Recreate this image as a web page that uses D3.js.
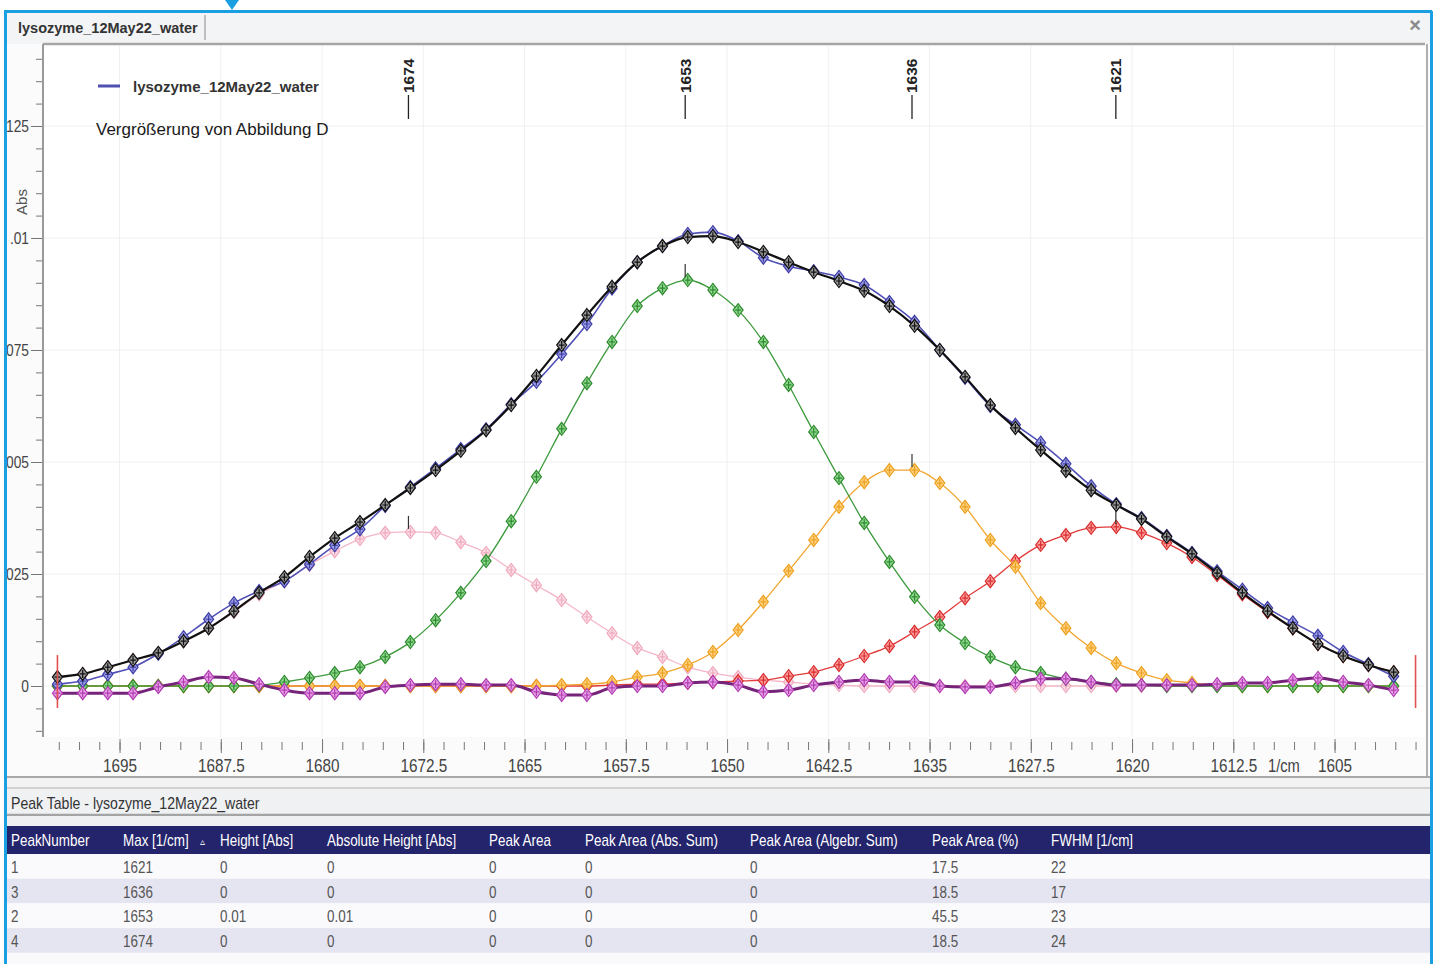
<!DOCTYPE html>
<html>
<head>
<meta charset="utf-8">
<script src="https://cdn.jsdelivr.net/npm/d3@7"></script>
<style>
  body { margin: 0; background: #fff; }
  svg { display: block; }
  text { font-family: "Liberation Sans", Arial, sans-serif; }
</style>
</head>
<body>
<div class="chart"></div>
<script>
// wavenumbers of the sampled points (1/cm)
const wavenumbers = [1699.60, 1697.73, 1695.87, 1694.00, 1692.13, 1690.26, 1688.40, 1686.53, 1684.66, 1682.79,
  1680.93, 1679.06, 1677.19, 1675.32, 1673.46, 1671.59, 1669.72, 1667.85, 1665.99, 1664.12,
  1662.25, 1660.38, 1658.52, 1656.65, 1654.78, 1652.91, 1651.05, 1649.18, 1647.31, 1645.44,
  1643.58, 1641.71, 1639.84, 1637.97, 1636.11, 1634.24, 1632.37, 1630.50, 1628.64, 1626.77,
  1624.90, 1623.03, 1621.17, 1619.30, 1617.43, 1615.56, 1613.70, 1611.83, 1609.96, 1608.09,
  1606.23, 1604.36, 1602.49, 1600.62];

// measured spectrum (Abs)
const measured = [0.00004, 0.00011, 0.00026, 0.00042, 0.00072, 0.00109, 0.00149, 0.00185, 0.00212, 0.00234,
  0.00272, 0.00314, 0.00350, 0.00402, 0.00444, 0.00486, 0.00529, 0.00573, 0.00629, 0.00679,
  0.00741, 0.00808, 0.00887, 0.00946, 0.00982, 0.01009, 0.01013, 0.00993, 0.00956, 0.00937,
  0.00926, 0.00913, 0.00895, 0.00857, 0.00813, 0.00750, 0.00688, 0.00625, 0.00583, 0.00543,
  0.00496, 0.00446, 0.00406, 0.00375, 0.00335, 0.00297, 0.00256, 0.00215, 0.00174, 0.00142,
  0.00112, 0.00076, 0.00049, 0.00022];

// sum of the fitted peaks
const fitSum = [0.00020, 0.00027, 0.00042, 0.00058, 0.00074, 0.00100, 0.00129, 0.00167, 0.00208, 0.00243,
  0.00288, 0.00330, 0.00366, 0.00404, 0.00442, 0.00482, 0.00525, 0.00571, 0.00627, 0.00692,
  0.00761, 0.00828, 0.00891, 0.00946, 0.00982, 0.01002, 0.01004, 0.00991, 0.00969, 0.00946,
  0.00924, 0.00904, 0.00882, 0.00848, 0.00804, 0.00750, 0.00690, 0.00627, 0.00576, 0.00527,
  0.00480, 0.00437, 0.00404, 0.00373, 0.00333, 0.00295, 0.00252, 0.00208, 0.00167, 0.00129,
  0.00094, 0.00067, 0.00047, 0.00031];

// peak 4 (1674)
const peak1674 = [0.00020, 0.00027, 0.00042, 0.00058, 0.00074, 0.00100, 0.00129, 0.00165, 0.00205, 0.00234,
  0.00270, 0.00301, 0.00328, 0.00342, 0.00344, 0.00342, 0.00321, 0.00297, 0.00259, 0.00225,
  0.00192, 0.00154, 0.00118, 0.00085, 0.00065, 0.00042, 0.00029, 0.00020, 0.00013, 0.00009,
  0.00004, 0.00002, 0, 0, 0, 0, 0, 0, 0, 0,
  0, 0, 0, 0, 0, 0, 0, 0, 0, 0,
  0, 0, 0, 0];

// peak 2 (1653)
const peak1653 = [0, 0, 0, 0, 0, 0, 0, 0, 0.00002, 0.00009,
  0.00018, 0.00029, 0.00042, 0.00065, 0.00098, 0.00147, 0.00208, 0.00279, 0.00368, 0.00467,
  0.00574, 0.00676, 0.00768, 0.00848, 0.00888, 0.00906, 0.00884, 0.00839, 0.00768, 0.00672,
  0.00567, 0.00464, 0.00364, 0.00277, 0.00199, 0.00136, 0.00096, 0.00065, 0.00042, 0.00029,
  0.00016, 0.00009, 0.00004, 0.00002, 0, 0, 0, 0, 0, 0,
  0, 0, 0, 0];

// peak 3 (1636)
const peak1636 = [0, 0, 0, 0, 0, 0, 0, 0, 0, 0,
  0, 0, 0, 0, 0, 0, 0, 0, 0, 0,
  0.00002, 0.00004, 0.00009, 0.00020, 0.00029, 0.00047, 0.00076, 0.00125, 0.00188, 0.00257,
  0.00326, 0.00400, 0.00455, 0.00482, 0.00482, 0.00453, 0.00400, 0.00326, 0.00266, 0.00185,
  0.00129, 0.00085, 0.00051, 0.00029, 0.00013, 0.00007, 0.00002, 0, 0, 0,
  0, 0, 0, 0];

// peak 1 (1621)
const peak1621 = [0, 0, 0, 0, 0, 0, 0, 0, 0, 0,
  0, 0, 0, 0, 0, 0, 0, 0, 0, 0,
  0, 0, 0.00002, 0.00004, 0.00004, 0.00007, 0.00009, 0.00011, 0.00013, 0.00022,
  0.00031, 0.00047, 0.00067, 0.00089, 0.00121, 0.00154, 0.00196, 0.00234, 0.00279, 0.00315,
  0.00337, 0.00353, 0.00355, 0.00342, 0.00319, 0.00288, 0.00248, 0.00205, 0.00165, 0.00129,
  0.00094, 0.00067, 0.00047, 0.00031];

// residual (measured - fit)
const residual = [-0.00016, -0.00016, -0.00016, -0.00016, -0.00002, 0.00009, 0.00020, 0.00018, 0.00004, -0.00009,
  -0.00016, -0.00016, -0.00016, -0.00002, 0.00002, 0.00004, 0.00004, 0.00002, 0.00002, -0.00013,
  -0.00020, -0.00020, -0.00004, 0, 0, 0.00007, 0.00009, 0.00002, -0.00013, -0.00009,
  0.00002, 0.00009, 0.00013, 0.00009, 0.00009, 0, -0.00002, -0.00002, 0.00007, 0.00016,
  0.00016, 0.00009, 0.00002, 0.00002, 0.00002, 0.00002, 0.00004, 0.00007, 0.00007, 0.00013,
  0.00018, 0.00009, 0.00002, -0.00009];

// peak markers
const peakPos = [1673.6, 1653.1, 1636.3, 1621.2];
const peakLabels = ["1674", "1653", "1636", "1621"];
const peakHeights = [0.00344, 0.00906, 0.00482, 0.00355];

// fit region limits
const regionLimits = [1699.6, 1599.0];

// axis ticks
const xLabelTicks = [1695, 1687.5, 1680, 1672.5, 1665, 1657.5, 1650, 1642.5, 1635, 1627.5, 1620, 1612.5, 1605];
const yLabelTicks = [0, 0.0025, 0.005, 0.0075, 0.01, 0.0125];

// peak table
const tableHeaders = ["PeakNumber", "Max [1/cm]", "Height [Abs]", "Absolute Height [Abs]", "Peak Area",
  "Peak Area (Abs. Sum)", "Peak Area (Algebr. Sum)", "Peak Area (%)", "FWHM [1/cm]"];
const peakNumber = ["1", "3", "2", "4"];
const peakMax = ["1621", "1636", "1653", "1674"];
const peakHeightAbs = ["0", "0", "0.01", "0"];
const peakAbsHeight = ["0", "0", "0.01", "0"];
const peakArea = ["0", "0", "0", "0"];
const peakAreaAbsSum = ["0", "0", "0", "0"];
const peakAreaAlgSum = ["0", "0", "0", "0"];
const peakAreaPct = ["17.5", "18.5", "45.5", "18.5"];
const peakFwhm = ["22", "17", "23", "24"];

const W = 1440, H = 964;
const plot = {left: 43, right: 1425, top: 44, bottom: 737};

const svg = d3.select('.chart').append('svg')
  .attr('width', W)
  .attr('height', H);

// the program's UI font is a condensed one: squeeze texts horizontally
function squeeze(sel, k) {
  sel.each(function () {
    const t = d3.select(this);
    const tx = +t.attr('x') || 0, ty = +t.attr('y') || 0;
    t.attr('x', null).attr('y', null)
      .attr('transform', `translate(${tx},${ty}) scale(${k},1)`);
  });
}

// ---- window chrome ----
svg.append('rect').attr('x', 7).attr('y', 13).attr('width', 1423).attr('height', 31).attr('fill', '#f2f4f6');
svg.append('rect').attr('x', 7).attr('y', 44).attr('width', 1423).attr('height', 734).attr('fill', '#fbfbfb');
svg.append('rect').attr('x', plot.left).attr('y', plot.top)
  .attr('width', plot.right - plot.left).attr('height', plot.bottom - plot.top).attr('fill', '#fff');

svg.append('line').attr('x1', 205).attr('x2', 205).attr('y1', 15).attr('y2', 40)
  .attr('stroke', '#9a9a9a').attr('stroke-width', 1.2);
svg.append('text').attr('x', 18).attr('y', 33)
  .attr('font-weight', 'bold').attr('font-size', 14.5).attr('fill', '#333').text('lysozyme_12May22_water');
svg.append('text').attr('x', 1415).attr('y', 32).attr('text-anchor', 'middle')
  .attr('font-family', 'DejaVu Sans, sans-serif').attr('font-weight', 'bold')
  .attr('font-size', 20).attr('fill', '#8a8a8a').text('×');

const x = d3.scaleLinear().domain([1700.67, 1598.3]).range([plot.left, plot.right]);
const y = d3.scaleLinear().domain([-0.001138, 0.01433]).range([plot.bottom, plot.top]);

// faint grid
const grid = svg.append('g');
grid.selectAll('.vg').data(xLabelTicks).enter().append('line')
  .attr('x1', d => x(d)).attr('x2', d => x(d)).attr('y1', plot.top).attr('y2', plot.bottom)
  .attr('stroke', '#f0f0f0');
grid.selectAll('.hg').data(yLabelTicks).enter().append('line')
  .attr('x1', plot.left).attr('x2', plot.right).attr('y1', d => y(d)).attr('y2', d => y(d))
  .attr('stroke', '#f0f0f0');

// ---- axes ----
const minorX = d3.range(1699.5, 1598.9, -1.5);
const xMinor = d3.axisBottom(x).tickValues(minorX).tickSize(8).tickFormat('');
svg.append('g').attr('transform', 'translate(0,742)').call(xMinor)
  .call(g => g.select('.domain').remove())
  .call(g => g.selectAll('line').attr('stroke', '#777'));

const xAxis = d3.axisBottom(x).tickValues(xLabelTicks).tickSize(14).tickPadding(6)
  .tickFormat(d => String(d));
svg.append('g').attr('class', 'x-axis').attr('transform', 'translate(0,739)').call(xAxis)
  .call(g => g.select('.domain').remove())
  .call(g => g.selectAll('line').attr('stroke', '#777'))
  .call(g => g.selectAll('text').attr('font-size', 18).attr('fill', '#444')
    .attr('font-family', '"Liberation Sans", sans-serif').call(squeeze, 0.85));

svg.append('text').attr('x', x(1608.75)).attr('y', 772)
  .attr('text-anchor', 'middle').attr('font-size', 18).attr('fill', '#444').text('1/cm').call(squeeze, 0.82);

const minorY = d3.range(-0.001, 0.01401, 0.0005);
const yMinor = d3.axisLeft(y).tickValues(minorY).tickSize(7).tickFormat('');
svg.append('g').attr('transform', `translate(${plot.left},0)`).call(yMinor)
  .call(g => g.select('.domain').remove())
  .call(g => g.selectAll('line').attr('stroke', '#777'));

// labels are cut at the window edge in the program: only their last 3 chars show
const yAxis = d3.axisLeft(y).tickValues(yLabelTicks).tickSize(12).tickPadding(2)
  .tickFormat(d => String(+d.toFixed(4)).slice(-3));
svg.append('g').attr('class', 'y-axis')
  .attr('transform', `translate(${plot.left},0)`).call(yAxis)
  .call(g => g.select('.domain').remove())
  .call(g => g.selectAll('line').attr('stroke', '#777'))
  .call(g => g.selectAll('text').attr('font-size', 16).attr('fill', '#444')
    .attr('font-family', '"Liberation Sans", sans-serif').call(squeeze, 0.86));

svg.append('text')
  .attr('transform', 'translate(27,202) rotate(-90)')
  .attr('text-anchor', 'middle').attr('font-size', 15).attr('fill', '#555').text('Abs');

// plot frame
svg.append('line').attr('x1', plot.left).attr('x2', plot.right).attr('y1', plot.top).attr('y2', plot.top)
  .attr('stroke', '#a6a6a6').attr('stroke-width', 2.5);
svg.append('line').attr('x1', plot.left).attr('x2', plot.left).attr('y1', plot.top).attr('y2', plot.bottom)
  .attr('stroke', '#9a9a9a').attr('stroke-width', 2);
svg.append('line').attr('x1', 1427).attr('x2', 1427).attr('y1', plot.top).attr('y2', 778)
  .attr('stroke', '#b0b0b0').attr('stroke-width', 2);

// ---- curves ----
svg.append('clipPath').attr('id', 'pclip').append('rect')
  .attr('x', plot.left).attr('y', plot.top).attr('width', plot.right - plot.left).attr('height', plot.bottom - plot.top);
const layer = svg.append('g').attr('clip-path', 'url(#pclip)');

const line = d3.line().x((d, i) => x(wavenumbers[i])).y(d => y(d)).curve(d3.curveMonotoneX);
const marker = 'M0,-6.5L5,0L0,6.5L-5,0Z M-3,0H3 M0,-4V4';

function drawSeries(values, lineColor, lineWidth, mStroke, mFill) {
  layer.append('path').datum(values).attr('d', line)
    .attr('fill', 'none').attr('stroke', lineColor).attr('stroke-width', lineWidth);
  layer.append('g').selectAll('path').data(values).enter().append('path')
    .attr('transform', (d, i) => `translate(${x(wavenumbers[i])},${y(d)})`)
    .attr('d', marker)
    .attr('fill', mFill).attr('stroke', mStroke).attr('stroke-width', 1.2);
}

drawSeries(peak1674, '#f4b6c6', 1.3, '#f0a8bc', '#fbe0e8');
drawSeries(peak1621, '#e23a3a', 1.3, '#d82c2c', '#ff9d9d');
drawSeries(peak1636, '#f2a630', 1.3, '#eda020', '#ffd27e');
drawSeries(peak1653, '#3c9a3c', 1.3, '#2e8a2e', '#8fd88f');
drawSeries(measured, '#5050b8', 1.6, '#3c3ca6', '#a0a0e6');
drawSeries(fitSum, '#111', 2.2, '#111', '#9a9a9a');
drawSeries(residual, '#76237a', 3, '#b13cb1', '#e7a0e7');

// peak ticks on components
layer.selectAll('.ptick').data(peakPos).enter().append('line')
  .attr('x1', d => x(d)).attr('x2', d => x(d))
  .attr('y1', (d, i) => y(peakHeights[i]) - 3).attr('y2', (d, i) => y(peakHeights[i]) - 16)
  .attr('stroke', '#333').attr('stroke-width', 1.2);

// fit region limits
svg.selectAll('.lim').data(regionLimits).enter().append('line')
  .attr('x1', d => x(d)).attr('x2', d => x(d)).attr('y1', y(0.00069)).attr('y2', y(-0.00049))
  .attr('stroke', '#e05050').attr('stroke-width', 1.6);

// peak labels at top
const pl = svg.append('g');
pl.selectAll('line').data(peakPos).enter().append('line')
  .attr('x1', d => x(d)).attr('x2', d => x(d)).attr('y1', 95).attr('y2', 119)
  .attr('stroke', '#222').attr('stroke-width', 1.3);
pl.selectAll('text').data(peakPos).enter().append('text')
  .attr('transform', d => `translate(${x(d)},93) rotate(-90)`)
  .attr('dy', '0.35em')
  .attr('font-weight', 'bold').attr('font-size', 15.5).attr('fill', '#222')
  .text((d, i) => peakLabels[i]);

// legend + annotation
svg.append('line').attr('x1', 98).attr('x2', 120).attr('y1', 86).attr('y2', 86)
  .attr('stroke', '#5050b0').attr('stroke-width', 3);
svg.append('text').attr('x', 133).attr('y', 92)
  .attr('font-weight', 'bold').attr('font-size', 15).attr('fill', '#333').text('lysozyme_12May22_water');
svg.append('text').attr('x', 96).attr('y', 135)
  .attr('font-family', 'Roboto, sans-serif').attr('font-size', 17).attr('fill', '#1a1a1a')
  .text('Vergrößerung von Abbildung D');

// ---- lower panel ----
svg.append('line').attr('x1', 7).attr('x2', 1430).attr('y1', 777).attr('y2', 777)
  .attr('stroke', '#a8a8a8').attr('stroke-width', 2);
svg.append('rect').attr('x', 7).attr('y', 778).attr('width', 1423).attr('height', 10).attr('fill', '#f3f3f3');
svg.append('line').attr('x1', 7).attr('x2', 1430).attr('y1', 788).attr('y2', 788)
  .attr('stroke', '#c4c4c4').attr('stroke-width', 1.5);
svg.append('rect').attr('x', 7).attr('y', 789).attr('width', 1423).attr('height', 25).attr('fill', '#eff1f3');
svg.append('text').attr('x', 11).attr('y', 809)
  .attr('font-size', 16).attr('fill', '#333').text('Peak Table - lysozyme_12May22_water').call(squeeze, 0.88);
svg.append('line').attr('x1', 7).attr('x2', 1430).attr('y1', 815).attr('y2', 815)
  .attr('stroke', '#a4a4a4').attr('stroke-width', 2.5);
svg.append('rect').attr('x', 7).attr('y', 816).attr('width', 1423).attr('height', 10).attr('fill', '#eef0f2');

const colX = [11, 123, 220, 327, 489, 585, 750, 932, 1051];
svg.append('rect').attr('x', 7).attr('y', 826).attr('width', 1423).attr('height', 28).attr('fill', '#24246c');
svg.append('g').selectAll('text').data(tableHeaders).enter().append('text')
  .attr('x', (d, i) => colX[i]).attr('y', 846)
  .attr('font-size', 16).attr('fill', '#fff').text(d => d).call(squeeze, 0.84);
svg.append('text').attr('x', 200).attr('y', 845).attr('font-family', 'DejaVu Sans, sans-serif')
  .attr('font-size', 10).attr('fill', '#fff').text('▵');

const rows = peakNumber.map((d, i) => [d, peakMax[i], peakHeightAbs[i], peakAbsHeight[i], peakArea[i],
  peakAreaAbsSum[i], peakAreaAlgSum[i], peakAreaPct[i], peakFwhm[i]]);
const rowG = svg.append('g').selectAll('g').data(rows).enter().append('g')
  .attr('transform', (d, i) => `translate(0,${854 + i * 24.7})`);
rowG.append('rect').attr('x', 7).attr('width', 1423).attr('height', 24.7)
  .attr('fill', (d, i) => i % 2 ? '#e5e5f1' : '#fafafd');
rowG.selectAll('text').data(d => d).enter().append('text')
  .attr('x', (d, i) => colX[i]).attr('y', 19)
  .attr('font-size', 16).attr('fill', '#555').text(d => d).call(squeeze, 0.84);
svg.append('rect').attr('x', 7).attr('y', 953).attr('width', 1423).attr('height', 11).attr('fill', '#fafafd');

// outer blue frame + pointer
svg.append('path').attr('d', 'M5.5,12 V964 M4,11.5 H1432 M1431.5,11 V964')
  .attr('stroke', '#1aa0e2').attr('stroke-width', 3).attr('fill', 'none');
svg.append('path').attr('d', 'M225,0 L239,0 L232,10 Z').attr('fill', '#1aa0e2');
</script>
</body>
</html>
